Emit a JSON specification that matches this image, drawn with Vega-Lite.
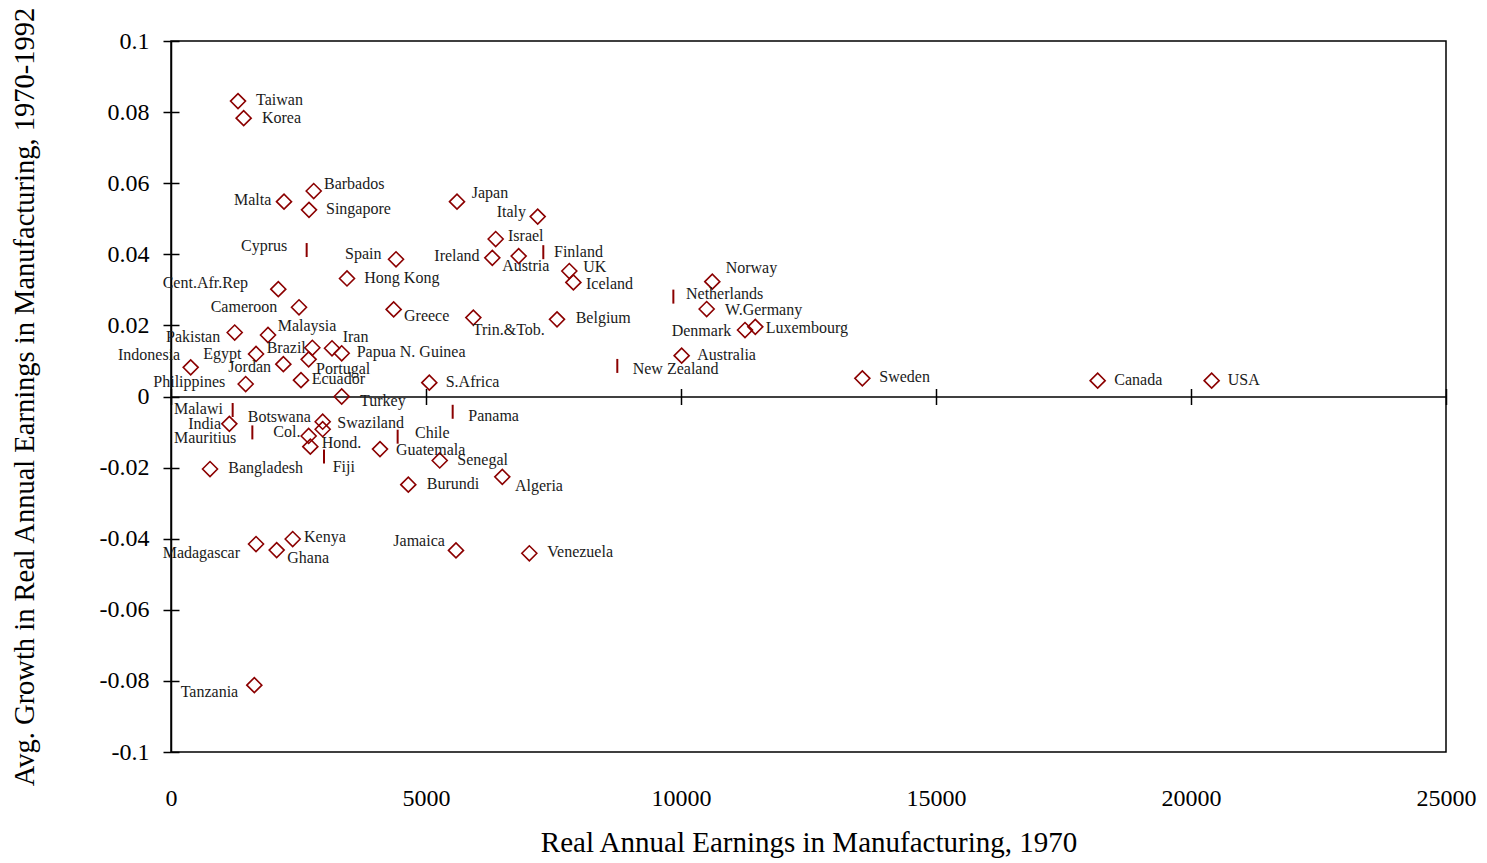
{
  "$schema": "https://vega.github.io/schema/vega-lite/v6.json",
  "width": 1275,
  "height": 711,
  "autosize": {"type": "none"},
  "padding": {"left": 171, "top": 41, "right": 41, "bottom": 111},
  "background": "white",
  "config": {
    "view": {"stroke": "black", "strokeWidth": 1.5},
    "axis": {"domainColor": "black", "tickColor": "black", "labelColor": "black", "titleColor": "black", "labelFont": "Liberation Serif", "titleFont": "Liberation Serif", "grid": false, "titleFontWeight": "normal", "domainWidth": 1.5, "tickWidth": 1.5}
  },
  "data": {"values": [
    {"country": "Taiwan", "earnings": 1314, "growth": 0.0831, "marker": "diamond", "lx": 1667, "ly": 0.0834},
    {"country": "Korea", "earnings": 1425, "growth": 0.0783, "marker": "diamond", "lx": 1784, "ly": 0.0783},
    {"country": "Barbados", "earnings": 2798, "growth": 0.0578, "marker": "diamond", "lx": 3000, "ly": 0.0598},
    {"country": "Malta", "earnings": 2216, "growth": 0.0548, "marker": "diamond", "lx": 1235, "ly": 0.0554},
    {"country": "Singapore", "earnings": 2706, "growth": 0.0525, "marker": "diamond", "lx": 3039, "ly": 0.0527},
    {"country": "Japan", "earnings": 5608, "growth": 0.0548, "marker": "diamond", "lx": 5896, "ly": 0.0572},
    {"country": "Italy", "earnings": 7190, "growth": 0.0506, "marker": "diamond", "lx": 6386, "ly": 0.0519},
    {"country": "Israel", "earnings": 6366, "growth": 0.0443, "marker": "diamond", "lx": 6608, "ly": 0.0452},
    {"country": "Finland", "earnings": 7300, "growth": 0.0406, "marker": "line", "lx": 7510, "ly": 0.0407},
    {"country": "Ireland", "earnings": 6300, "growth": 0.0390, "marker": "diamond", "lx": 5163, "ly": 0.0395},
    {"country": "Austria", "earnings": 6817, "growth": 0.0395, "marker": "diamond", "lx": 6496, "ly": 0.0368},
    {"country": "UK", "earnings": 7810, "growth": 0.0353, "marker": "diamond", "lx": 8084, "ly": 0.0365},
    {"country": "Iceland", "earnings": 7890, "growth": 0.0321, "marker": "diamond", "lx": 8137, "ly": 0.0317},
    {"country": "Spain", "earnings": 4412, "growth": 0.0386, "marker": "diamond", "lx": 3412, "ly": 0.0401},
    {"country": "Hong Kong", "earnings": 3451, "growth": 0.0332, "marker": "diamond", "lx": 3790, "ly": 0.0334},
    {"country": "Greece", "earnings": 4366, "growth": 0.0245, "marker": "diamond", "lx": 4569, "ly": 0.0227},
    {"country": "Trin.&Tob.", "earnings": 5928, "growth": 0.0222, "marker": "diamond", "lx": 5916, "ly": 0.0187},
    {"country": "Belgium", "earnings": 7569, "growth": 0.0217, "marker": "diamond", "lx": 7935, "ly": 0.0222},
    {"country": "Papua N. Guinea", "earnings": 3347, "growth": 0.01215, "marker": "diamond", "lx": 3641, "ly": 0.0126},
    {"country": "S.Africa", "earnings": 5065, "growth": 0.0039, "marker": "diamond", "lx": 5386, "ly": 0.0042},
    {"country": "Turkey", "earnings": 3347, "growth": 0.0, "marker": "diamond", "lx": 3706, "ly": -0.0012},
    {"country": "New Zealand", "earnings": 8751, "growth": 0.0086, "marker": "line", "lx": 9053, "ly": 0.0077},
    {"country": "Netherlands", "earnings": 9850, "growth": 0.0281, "marker": "line", "lx": 10098, "ly": 0.0288},
    {"country": "Norway", "earnings": 10614, "growth": 0.0323, "marker": "diamond", "lx": 10876, "ly": 0.0361},
    {"country": "W.Germany", "earnings": 10503, "growth": 0.0246, "marker": "diamond", "lx": 10863, "ly": 0.0243},
    {"country": "Denmark", "earnings": 11255, "growth": 0.0187, "marker": "diamond", "lx": 9818, "ly": 0.0185},
    {"country": "Luxembourg", "earnings": 11457, "growth": 0.0196, "marker": "diamond", "lx": 11661, "ly": 0.0192},
    {"country": "Australia", "earnings": 10013, "growth": 0.01148, "marker": "diamond", "lx": 10320, "ly": 0.0117},
    {"country": "Sweden", "earnings": 13556, "growth": 0.0051, "marker": "diamond", "lx": 13888, "ly": 0.0056},
    {"country": "Canada", "earnings": 18170, "growth": 0.00445, "marker": "diamond", "lx": 18496, "ly": 0.0046},
    {"country": "USA", "earnings": 20405, "growth": 0.00445, "marker": "diamond", "lx": 20720, "ly": 0.0046},
    {"country": "Cyprus", "earnings": 2660, "growth": 0.0412, "marker": "line", "lx": 1373, "ly": 0.0423},
    {"country": "Cent.Afr.Rep", "earnings": 2104, "growth": 0.0302, "marker": "diamond", "lx": -163, "ly": 0.0320},
    {"country": "Cameroon", "earnings": 2510, "growth": 0.0251, "marker": "diamond", "lx": 778, "ly": 0.0251},
    {"country": "Malaysia", "earnings": 1902, "growth": 0.0173, "marker": "diamond", "lx": 2092, "ly": 0.0198},
    {"country": "Pakistan", "earnings": 1249, "growth": 0.0180, "marker": "diamond", "lx": -98, "ly": 0.0168},
    {"country": "Iran", "earnings": 3157, "growth": 0.01356, "marker": "diamond", "lx": 3367, "ly": 0.0168},
    {"country": "Brazil", "earnings": 2771, "growth": 0.0137, "marker": "diamond", "lx": 1876, "ly": 0.0137},
    {"country": "Egypt", "earnings": 1667, "growth": 0.01196, "marker": "diamond", "lx": 633, "ly": 0.01196},
    {"country": "Indonesia", "earnings": 386, "growth": 0.0082, "marker": "diamond", "lx": -1039, "ly": 0.0117},
    {"country": "Portugal", "earnings": 2699, "growth": 0.01046, "marker": "diamond", "lx": 2843, "ly": 0.0077},
    {"country": "Jordan", "earnings": 2203, "growth": 0.0091, "marker": "diamond", "lx": 1124, "ly": 0.0084},
    {"country": "Ecuador", "earnings": 2549, "growth": 0.0046, "marker": "diamond", "lx": 2759, "ly": 0.0049},
    {"country": "Philippines", "earnings": 1464, "growth": 0.0035, "marker": "diamond", "lx": -347, "ly": 0.0042},
    {"country": "Malawi", "earnings": 1209, "growth": -0.0038, "marker": "line", "lx": 59, "ly": -0.0036},
    {"country": "Panama", "earnings": 5523, "growth": -0.0043, "marker": "line", "lx": 5829, "ly": -0.0055},
    {"country": "India", "earnings": 1144, "growth": -0.0077, "marker": "diamond", "lx": 339, "ly": -0.0077},
    {"country": "Mauritius", "earnings": 1595, "growth": -0.0101, "marker": "line", "lx": 59, "ly": -0.0118},
    {"country": "Botswana", "earnings": 2974, "growth": -0.0071, "marker": "diamond", "lx": 1504, "ly": -0.0057},
    {"country": "Swaziland", "earnings": 2974, "growth": -0.0092, "marker": "diamond", "lx": 3261, "ly": -0.0075},
    {"country": "Col.", "earnings": 2699, "growth": -0.0111, "marker": "diamond", "lx": 2006, "ly": -0.0101},
    {"country": "Hond.", "earnings": 2732, "growth": -0.0141, "marker": "diamond", "lx": 2955, "ly": -0.0132},
    {"country": "Fiji", "earnings": 3000, "growth": -0.0169, "marker": "line", "lx": 3171, "ly": -0.0199},
    {"country": "Chile", "earnings": 4444, "growth": -0.0113, "marker": "line", "lx": 4784, "ly": -0.0104},
    {"country": "Guatemala", "earnings": 4098, "growth": -0.0148, "marker": "diamond", "lx": 4412, "ly": -0.0151},
    {"country": "Senegal", "earnings": 5269, "growth": -0.0180, "marker": "diamond", "lx": 5614, "ly": -0.0179},
    {"country": "Bangladesh", "earnings": 765, "growth": -0.0204, "marker": "diamond", "lx": 1124, "ly": -0.0201},
    {"country": "Burundi", "earnings": 4653, "growth": -0.0248, "marker": "diamond", "lx": 5014, "ly": -0.0246},
    {"country": "Algeria", "earnings": 6496, "growth": -0.0226, "marker": "diamond", "lx": 6745, "ly": -0.0252},
    {"country": "Kenya", "earnings": 2386, "growth": -0.0401, "marker": "diamond", "lx": 2608, "ly": -0.0396},
    {"country": "Madagascar", "earnings": 1667, "growth": -0.0415, "marker": "diamond", "lx": -163, "ly": -0.0439},
    {"country": "Ghana", "earnings": 2072, "growth": -0.0432, "marker": "diamond", "lx": 2280, "ly": -0.0455},
    {"country": "Jamaica", "earnings": 5588, "growth": -0.0433, "marker": "diamond", "lx": 4359, "ly": -0.0406},
    {"country": "Venezuela", "earnings": 7026, "growth": -0.0441, "marker": "diamond", "lx": 7378, "ly": -0.0437},
    {"country": "Tanzania", "earnings": 1634, "growth": -0.0812, "marker": "diamond", "lx": 190, "ly": -0.0832}
  ]},
  "resolve": {"axis": {"x": "independent", "y": "independent"}},
  "layer": [
    {
      "transform": [{"filter": "datum.marker === 'diamond'"}],
      "mark": {"type": "point", "shape": "diamond", "filled": false, "stroke": "#8b0000", "strokeWidth": 1.6, "size": 225, "opacity": 1},
      "encoding": {
        "x": {"field": "earnings", "type": "quantitative", "scale": {"domain": [0, 25000], "nice": false, "zero": false},
          "axis": {"orient": "bottom", "values": [0, 5000, 10000, 15000, 20000, 25000], "format": "d", "ticks": false, "tickSize": 0, "domain": false, "labelPadding": 34, "labelFontSize": 24, "labelFlush": false, "labelOverlap": false,
            "title": "Real Annual Earnings in Manufacturing, 1970", "titleFontSize": 29, "titlePadding": 18}},
        "y": {"field": "growth", "type": "quantitative", "scale": {"domain": [-0.1, 0.1], "nice": false, "zero": false},
          "axis": {"orient": "left", "values": [-0.1, -0.08, -0.06, -0.04, -0.02, 0, 0.02, 0.04, 0.06, 0.08, 0.1], "labelExpr": "'' + datum.value", "tickSize": 8, "labelPadding": 14, "labelFontSize": 24, "domain": true, "labelFlush": false, "labelOverlap": false,
            "title": "Avg. Growth in Real Annual Earnings in Manufacturing, 1970-1992", "titleFontSize": 28.5, "titlePadding": 60}}
      }
    },
    {
      "transform": [{"filter": "datum.marker === 'line'"}],
      "mark": {"type": "point", "shape": "M0,-1L0,1", "filled": false, "stroke": "#8b0000", "strokeWidth": 2, "size": 196, "opacity": 1},
      "encoding": {
        "x": {"field": "earnings", "type": "quantitative", "scale": {"domain": [0, 25000], "nice": false, "zero": false},
          "axis": {"orient": "top", "offset": -355.5, "values": [0, 5000, 10000, 15000, 20000, 25000], "tickSize": 8, "labels": false, "domain": true, "title": null}},
        "y": {"field": "growth", "type": "quantitative", "scale": {"domain": [-0.1, 0.1], "nice": false, "zero": false},
          "axis": {"orient": "right", "offset": -1275, "values": [-0.1, -0.08, -0.06, -0.04, -0.02, 0, 0.02, 0.04, 0.06, 0.08, 0.1], "tickSize": 8, "labels": false, "domain": false, "title": null}}
      }
    },
    {
      "mark": {"type": "text", "align": "left", "baseline": "middle", "font": "Liberation Serif", "fontSize": 16, "color": "#1a1a1a"},
      "encoding": {
        "x": {"field": "lx", "type": "quantitative", "scale": {"domain": [0, 25000], "nice": false, "zero": false},
          "axis": {"orient": "bottom", "offset": -355.5, "values": [0, 5000, 10000, 15000, 20000, 25000], "tickSize": 8, "labels": false, "domain": false, "title": null}},
        "y": {"field": "ly", "type": "quantitative", "scale": {"domain": [-0.1, 0.1], "nice": false, "zero": false}, "axis": null},
        "text": {"field": "country"}
      }
    }
  ]
}
